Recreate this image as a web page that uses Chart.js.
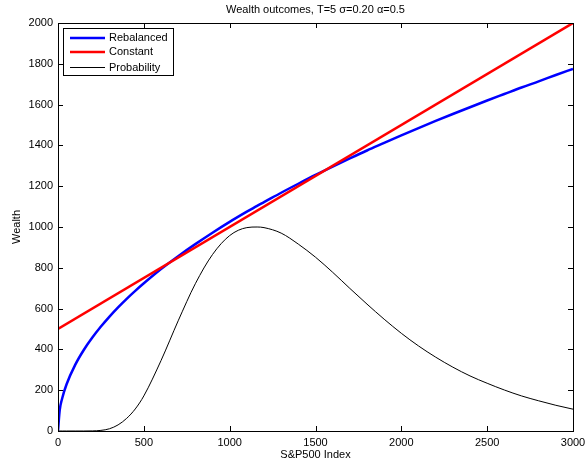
<!DOCTYPE html>
<html><head><meta charset="utf-8">
<script src="https://cdn.jsdelivr.net/npm/chart.js@4/dist/chart.umd.min.js"></script>
<style>html,body{margin:0;padding:0;background:#fff}#wrap{width:585px;height:464px}</style>
</head><body><div id="wrap"><canvas id="c" width="585" height="464"></canvas></div>
<script>
const titleText = 'Wealth outcomes, T=5 \u03c3=0.20 \u03b1=0.5';
const xLabel = 'S&P500 Index';
const yLabel = 'Wealth';
const seriesNames = ['Rebalanced', 'Constant', 'Probability'];
const indexLevels = [0, 10, 25, 50, 100, 150, 200, 250, 300, 350, 400, 450, 500, 600, 700, 800, 900, 1000, 1100, 1160, 1200, 1300, 1400, 1500, 1600, 1700, 1800, 1900, 2000, 2100, 2200, 2300, 2400, 2500, 2600, 2700, 2800, 2900, 3000];
const rebalanced = [0, 102, 162, 229, 324, 397, 458, 512, 561, 606, 648, 687, 724, 794, 857, 916, 972, 1025, 1075, 1104, 1122, 1168, 1212, 1255, 1296, 1336, 1375, 1412, 1449, 1485, 1520, 1554, 1587, 1620, 1652, 1684, 1714, 1745, 1775];
const probability = [0, 0, 0, 0, 0, 0, 0.5, 3, 11, 30, 62, 108, 172, 345, 540, 722, 865, 958, 997, 1000, 997, 970, 916, 852, 778, 699, 622, 548, 479, 417, 362, 313, 270, 234, 201, 172, 148, 126, 107];
const constantX = [0, 3000];
const constantY = [500, 2000];
const xTicks = [0, 500, 1000, 1500, 2000, 2500, 3000];
const yTicks = [0, 200, 400, 600, 800, 1000, 1200, 1400, 1600, 1800, 2000];

const FONT = 'Liberation Sans, Arial, Helvetica, sans-serif';
const colors = ['#0000ff', '#ff0000', '#000000'];
const widths = [2.5, 2.5, 1];

const pts = (xs, ys) => xs.map((x, i) => ({x: x, y: ys[i]}));

const framePlugin = {
  id: 'frame',
  afterDraw(chart) {
    const ctx = chart.ctx, a = chart.chartArea;
    const xs = chart.scales.x, ys = chart.scales.y;
    ctx.save();
    ctx.strokeStyle = '#000';
    ctx.lineWidth = 1;
    ctx.strokeRect(Math.round(a.left) + 0.5, Math.round(a.top) + 0.5, Math.round(a.right - a.left), Math.round(a.bottom - a.top));
    ctx.beginPath();
    const TL = 5;
    xTicks.forEach(v => {
      const px = Math.round(xs.getPixelForValue(v)) + 0.5;
      ctx.moveTo(px, a.bottom); ctx.lineTo(px, a.bottom - TL);
      ctx.moveTo(px, a.top); ctx.lineTo(px, a.top + TL);
    });
    yTicks.forEach(v => {
      const py = Math.round(ys.getPixelForValue(v)) + 0.5;
      ctx.moveTo(a.left, py); ctx.lineTo(a.left + TL, py);
      ctx.moveTo(a.right, py); ctx.lineTo(a.right - TL, py);
    });
    ctx.stroke();
    ctx.fillStyle = '#000';
    ctx.font = '11px ' + FONT;
    ctx.textAlign = 'center';
    ctx.textBaseline = 'middle';
    const cx = (a.left + a.right) / 2;
    ctx.fillText(titleText, cx, 10);
    ctx.fillText(xLabel, cx, 455);
    ctx.save();
    ctx.translate(17, (a.top + a.bottom) / 2);
    ctx.rotate(-Math.PI / 2);
    ctx.fillText(yLabel, 0, 0);
    ctx.restore();
    const lx = Math.round(a.left) + 5, ly = Math.round(a.top) + 5, lw = 110, lh = 47;
    ctx.fillStyle = '#fff';
    ctx.fillRect(lx, ly, lw, lh);
    ctx.strokeStyle = '#000';
    ctx.lineWidth = 1;
    ctx.strokeRect(lx + 0.5, ly + 0.5, lw, lh);
    ctx.textAlign = 'left';
    const rows = [ly + 10, ly + 24, ly + 39.5];
    seriesNames.forEach((n, i) => {
      ctx.beginPath();
      ctx.strokeStyle = colors[i];
      ctx.lineWidth = widths[i];
      ctx.moveTo(lx + 7, rows[i]); ctx.lineTo(lx + 42, rows[i]);
      ctx.stroke();
      ctx.fillStyle = '#000';
      ctx.fillText(n, lx + 46, Math.round(rows[i]));
    });
    ctx.restore();
  }
};

new Chart(document.getElementById('c'), {
  type: 'line',
  data: {
    datasets: [
      {label: seriesNames[0], data: pts(indexLevels, rebalanced), borderColor: colors[0], borderWidth: widths[0], pointRadius: 0, cubicInterpolationMode: 'monotone', fill: false, order: 2},
      {label: seriesNames[1], data: pts(constantX, constantY), borderColor: colors[1], borderWidth: widths[1], pointRadius: 0, fill: false, order: 1},
      {label: seriesNames[2], data: pts(indexLevels, probability), borderColor: colors[2], borderWidth: widths[2], pointRadius: 0, cubicInterpolationMode: 'monotone', fill: false, order: 0}
    ]
  },
  options: {
    responsive: false,
    animation: false,
    devicePixelRatio: 1,
    layout: {padding: {top: 23, right: 12, left: 0, bottom: 0}},
    plugins: {legend: {display: false}, title: {display: false}, tooltip: {enabled: false}},
    scales: {
      x: {
        type: 'linear', min: 0, max: 3000,
        afterBuildTicks: s => { s.ticks = xTicks.map(v => ({value: v})); },
        afterFit: s => { s.height = 33; s.paddingLeft = 0; s.paddingRight = 0; },
        grid: {display: false, drawTicks: false},
        border: {display: false},
        ticks: {color: '#000', font: {family: FONT, size: 11}, padding: 5, maxRotation: 0, autoSkip: false, callback: v => String(v)}
      },
      y: {
        type: 'linear', min: 0, max: 2000,
        afterBuildTicks: s => { s.ticks = yTicks.map(v => ({value: v})); },
        afterFit: s => { s.width = 58; s.paddingTop = 0; s.paddingBottom = 0; },
        grid: {display: false, drawTicks: false},
        border: {display: false},
        ticks: {color: '#000', font: {family: FONT, size: 11}, padding: 5, autoSkip: false, callback: v => String(v)}
      }
    }
  },
  plugins: [framePlugin]
});
</script></body></html>
